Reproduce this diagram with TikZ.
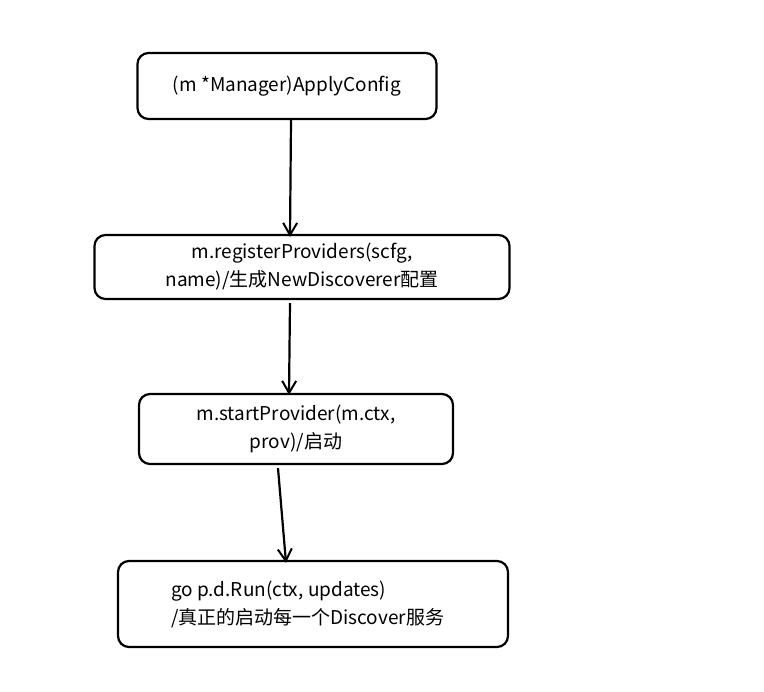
\documentclass[tikz,border=0pt]{standalone}
\usepackage{fontspec}
\setmainfont{Noto Sans CJK SC}
\usetikzlibrary{arrows.meta}

\tikzset{
  stepnode/.style={draw, line width=2.2pt, rounded corners=11pt, align=center,
    font=\fontsize{19}{28}\selectfont, inner sep=0pt},
  flow/.style={line width=2.2pt, -{Straight Barb[length=12pt,width=14pt,line width=2pt]}}
}

\begin{document}
\begin{tikzpicture}[x=1pt,y=-1pt]
\useasboundingbox (0,0) rectangle (764,692);

\node[stepnode, minimum width=299pt, minimum height=66pt] (apply) at (287,86) {(m *Manager)ApplyConfig};
\node[stepnode, minimum width=415pt, minimum height=64pt] (register) at (302,267) {m.registerProviders(scfg,\\name)/生成NewDiscoverer配置};
\node[stepnode, minimum width=314pt, minimum height=70pt] (start) at (296,429) {m.startProvider(m.ctx,\\prov)/启动};
\node[stepnode, minimum width=390pt, minimum height=86pt] (run) at (313,604) {};
\node[anchor=west, align=left, font=\fontsize{19}{28}\selectfont, inner sep=0pt] (runtext) at ([xshift=54pt]run.west) {go p.d.Run(ctx, updates)\\/真正的启动每一个Discover服务};

\draw[flow] ([xshift=4pt]apply.south) -- ([xshift=-12pt,yshift=-3pt]register.north);
\draw[flow] ([xshift=-12pt,yshift=-3pt]register.south) -- ([xshift=-7pt,yshift=-2pt]start.north);
\draw[flow] ([xshift=-18pt,yshift=-3pt]start.south) -- ([xshift=-27pt,yshift=-3pt]run.north);
\end{tikzpicture}
\end{document}
